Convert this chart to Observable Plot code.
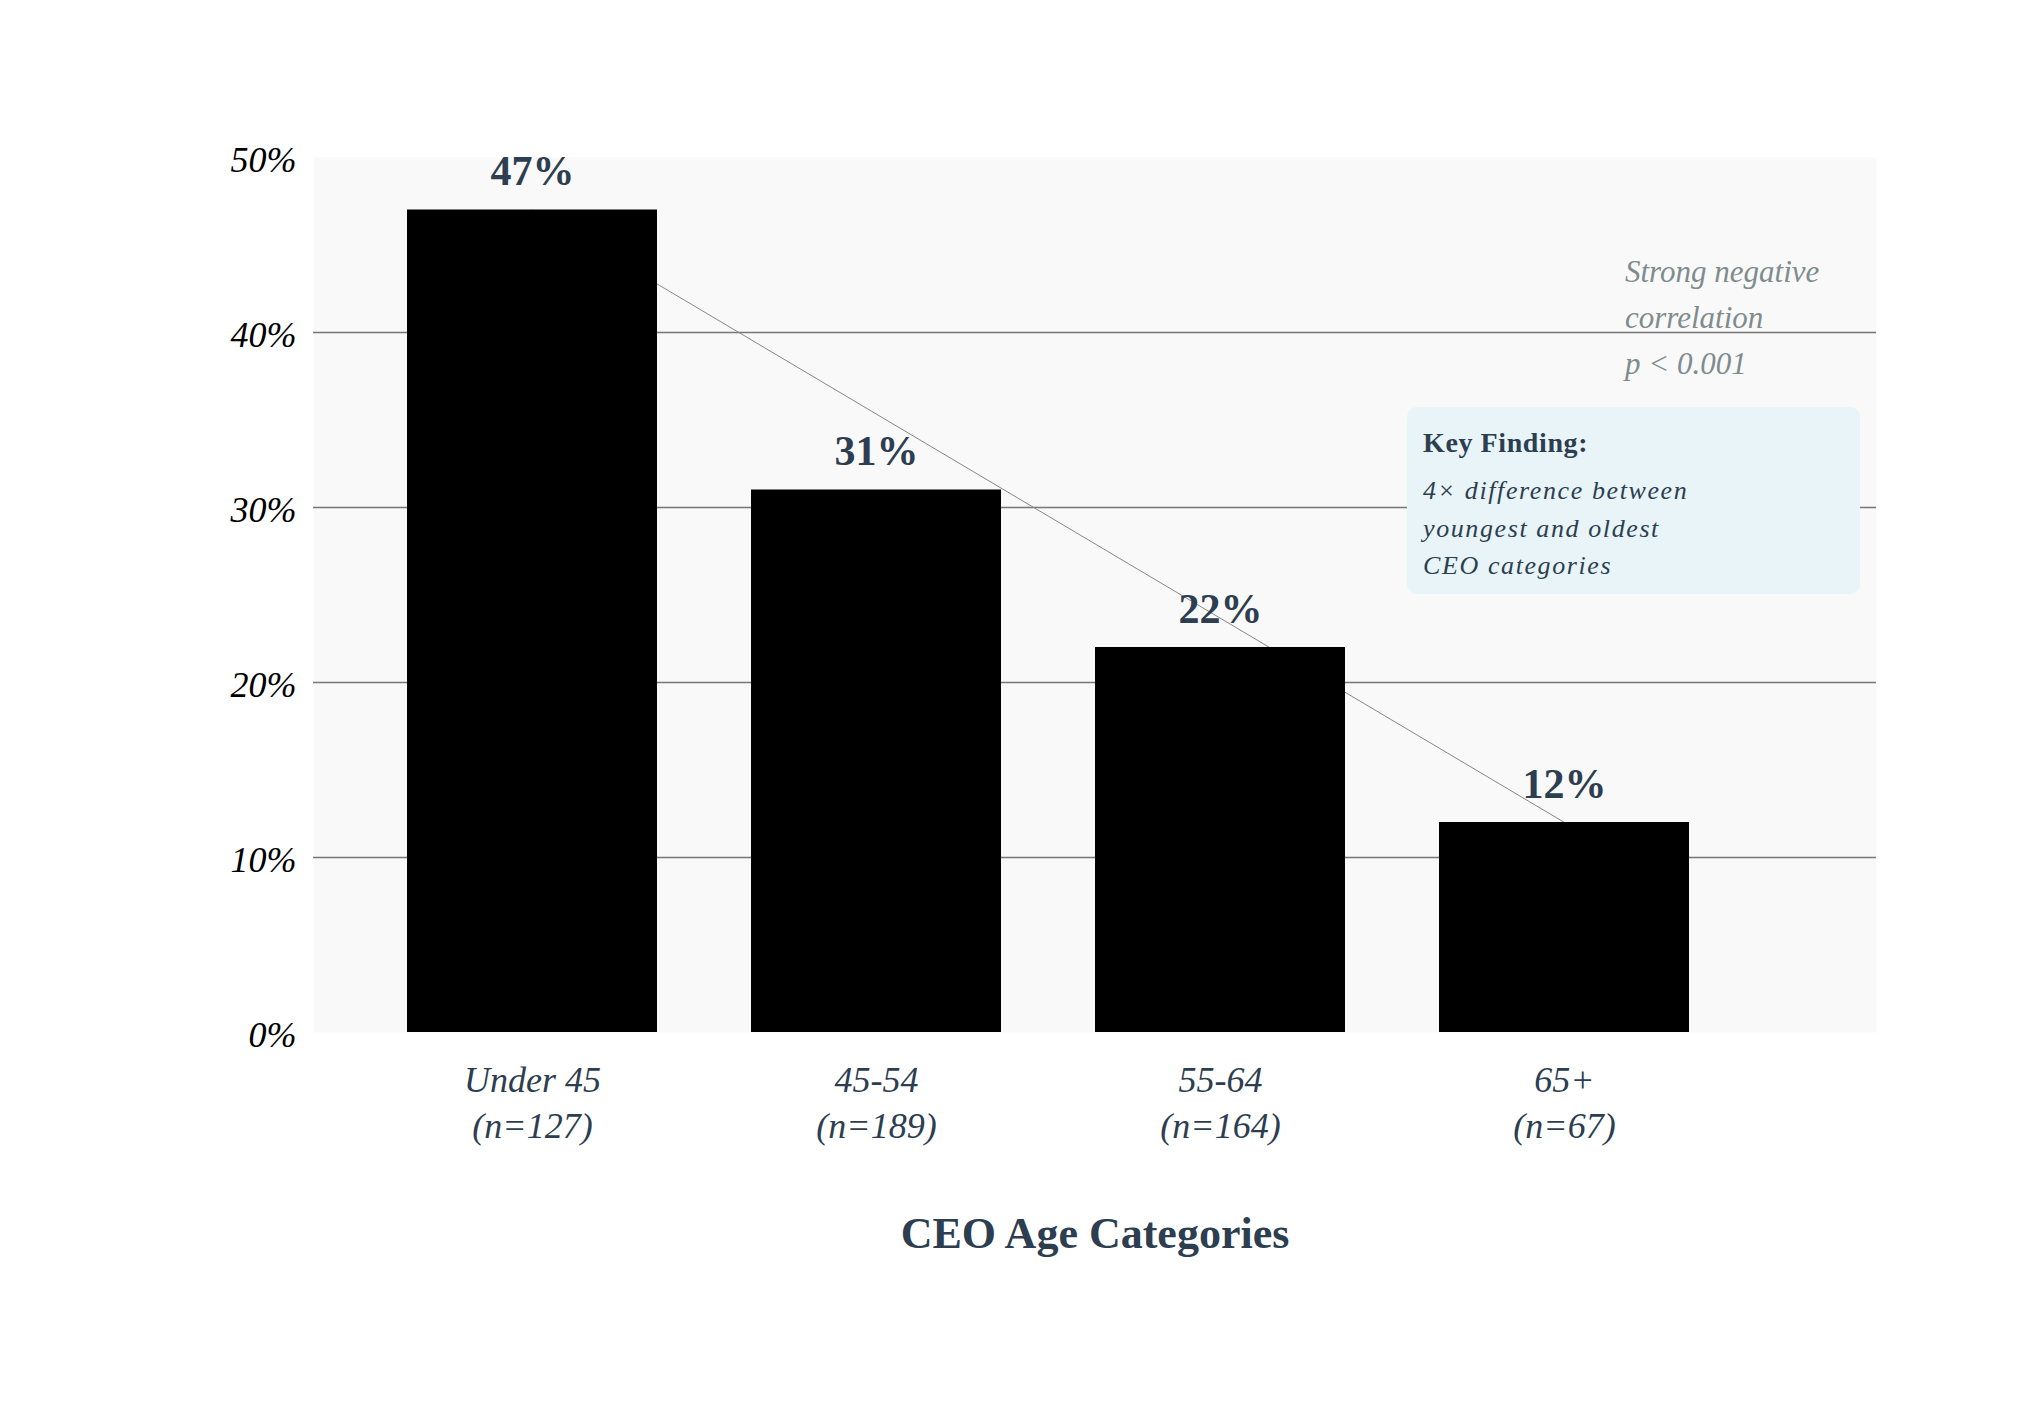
<!DOCTYPE html>
<html>
<head>
<meta charset="utf-8">
<script src="https://cdn.jsdelivr.net/npm/d3@7"></script>
<script src="https://cdn.jsdelivr.net/npm/@observablehq/plot@0.6"></script>
<style>
  html, body { margin: 0; padding: 0; background: #ffffff; }
  svg { display: block; }
</style>
</head>
<body>
<div id="chart"></div>
<script>
const categories = ["Under 45", "45-54", "55-64", "65+"];
const sampleSizes = [127, 189, 164, 67];
const shares = [47, 31, 22, 12];
const yTicks = [0, 10, 20, 30, 40, 50];
const gridValues = [10, 20, 30, 40];
const noteLines = ["Strong negative", "correlation", "p < 0.001"];
const boxTitle = "Key Finding:";
const boxLines = ["4\u00d7 difference between", "youngest and oldest", "CEO categories"];
const axisTitle = "CEO Age Categories";

const rows = categories.map((c, i) => ({cat: c, n: sampleSizes[i], v: shares[i]}));
const trend = [rows[0], rows[rows.length - 1]];
const nByCat = new Map(rows.map(r => [r.cat, r.n]));

const serif = "'Liberation Serif', 'Times New Roman', Times, serif";
const ink = "#2c3e50";

function annotations(index, scales, values, dims) {
  const g = d3.create("svg:g").attr("font-family", serif).attr("text-anchor", "start");
  const nx = 1625, ny = 282, nstep = 46;
  noteLines.forEach((t, i) => {
    g.append("text").attr("x", nx).attr("y", ny + i * nstep).attr("text-anchor", "start")
      .attr("font-size", 31).attr("font-style", "italic").attr("fill", "#7f8c8d").text(t);
  });
  g.append("rect").attr("x", 1407).attr("y", 407).attr("width", 453).attr("height", 187)
    .attr("rx", 10).attr("fill", "#e8f4f8");
  g.append("text").attr("x", 1423).attr("y", 452).attr("text-anchor", "start")
    .attr("font-size", 28).attr("font-weight", "bold")
    .attr("letter-spacing", "0.6px").attr("fill", ink).text(boxTitle);
  boxLines.forEach((t, i) => {
    g.append("text").attr("x", 1423).attr("y", 499 + i * 37.5).attr("text-anchor", "start")
      .attr("font-size", 26).attr("font-style", "italic").attr("letter-spacing", "1.6px")
      .attr("fill", ink).text(t);
  });
  return g.node();
}

const chart = Plot.plot({
  width: 2031,
  height: 1406,
  marginLeft: 313,
  marginRight: 155,
  marginTop: 157,
  marginBottom: 374,
  style: {background: "#ffffff", fontFamily: serif},
  x: {type: "band", domain: categories, range: [313, 1783], padding: 0.273},
  y: {domain: [0, 50], range: [1032, 157]},
  marks: [
    Plot.frame({fill: "#f9f9f9", stroke: null}),
    Plot.ruleY(gridValues, {stroke: "#777777", strokeWidth: 1.3}),
    Plot.line(trend, {x: "cat", y: "v", stroke: "#888888", strokeWidth: 1}),
    Plot.barY(rows, {x: "cat", y: "v", fill: "#000000"}),
    Plot.text(rows, {x: "cat", y: "v", text: d => d.v + "%", dy: -25, lineAnchor: "bottom",
      fontSize: 42, fontWeight: "bold", fill: ink, fontFamily: serif}),
    Plot.axisY({ticks: yTicks, tickFormat: d => d + "%", tickSize: 0, tickPadding: 17, dy: 3,
      fontSize: 36, fontStyle: "italic", fill: "#000000", fontFamily: serif, label: null}),
    Plot.axisX({tickSize: 0, tickPadding: 27, fontSize: 36, fontStyle: "italic", fill: ink,
      fontFamily: serif, lineHeight: 1.28, tickFormat: d => d + "\n(n=" + nByCat.get(d) + ")", label: null}),
    Plot.text([axisTitle], {frameAnchor: "bottom", dy: 215, lineAnchor: "bottom",
      fontSize: 44, fontWeight: "bold", fill: ink, fontFamily: serif}),
    annotations
  ]
});
document.getElementById("chart").appendChild(chart);
</script>
</body>
</html>
